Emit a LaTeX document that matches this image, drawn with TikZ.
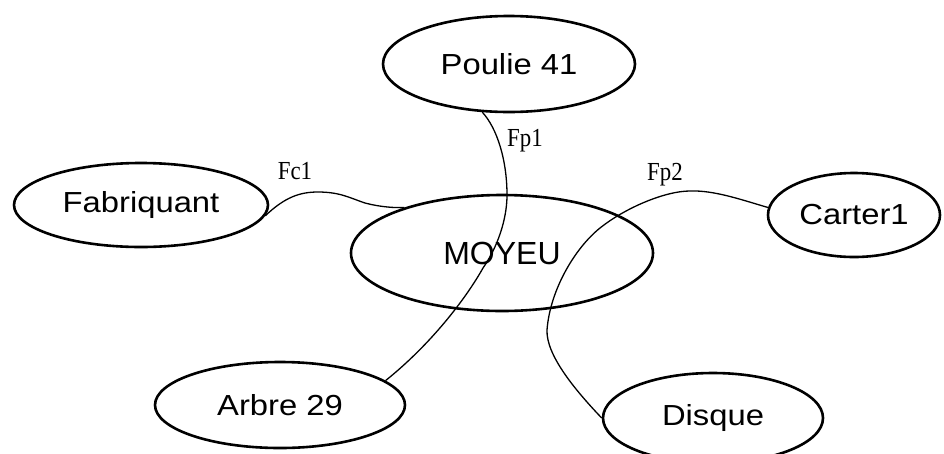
\documentclass[tikz,border=0pt]{standalone}
\usepackage{fontspec}
\usetikzlibrary{shapes.geometric}
\newfontfamily\nodefont[FakeStretch=1.13]{Liberation Sans}
\newfontfamily\bigfont{Liberation Sans}
\newfontfamily\lblfont[FakeStretch=0.88]{Liberation Serif}
\tikzset{
  ent/.style={ellipse, draw=black, line width=2.6pt, inner sep=0pt,
    font=\nodefont\fontsize{29}{34}\selectfont},
  link/.style={draw=black, line width=1.3pt},
  lbl/.style={font=\lblfont\fontsize{26}{30}\selectfont, inner sep=0pt}
}
\begin{document}
\begin{tikzpicture}[x=1pt,y=-1pt]
\fill[white] (0,0) rectangle (944,453);
\clip (0,0) rectangle (944,453);
\useasboundingbox (0,0) rectangle (944,453);

\node[ent, minimum width=252pt, minimum height=96pt] (pou) at (509,64) {Poulie 41};
\node[ent, minimum width=254pt, minimum height=84pt] (fab) at (141,205) {Fabriquant};
\node[ent, minimum width=302pt, minimum height=116pt, font=\bigfont\fontsize{32}{38}\selectfont] (moy) at (502,253) {MOYEU};
\node[ent, minimum width=172pt, minimum height=84pt] (car) at (854,215) {Carter1};
\node[ent, minimum width=250pt, minimum height=86pt] (arb) at (280,405) {Arbre 29};
\node[ent, minimum width=220pt, minimum height=90pt] (dis) at (713,418) {Disque};

% Fc1
\draw[link] (fab.-5) .. controls (285,197) and (300,192) .. (318,192)
  .. controls (340,192) and (350,198) .. (365,203)
  .. controls (380,207) and (395,208) .. (moy.155);
% Fp1
\draw[link] (pou.241) .. controls (497,128) and (507,160) .. (507,195)
  .. controls (507,220) and (497,248) .. (483,268)
  .. controls (465,300) and (430,345) .. (arb.13);
% Fp2
\draw[link] (car.175) .. controls (745,201) and (715,190) .. (690,191)
  .. controls (665,191) and (625,208) .. (600,228)
  .. controls (575,248) and (550,290) .. (547,330)
  .. controls (546,355) and (575,390) .. (dis.180);

\node[lbl] (lfc) at (295,171) {Fc1};
\node[lbl] (lfp1) at (525,141) {Fp1};
\node[lbl] (lfp2) at (665,175) {Fp2};
\end{tikzpicture}
\end{document}
